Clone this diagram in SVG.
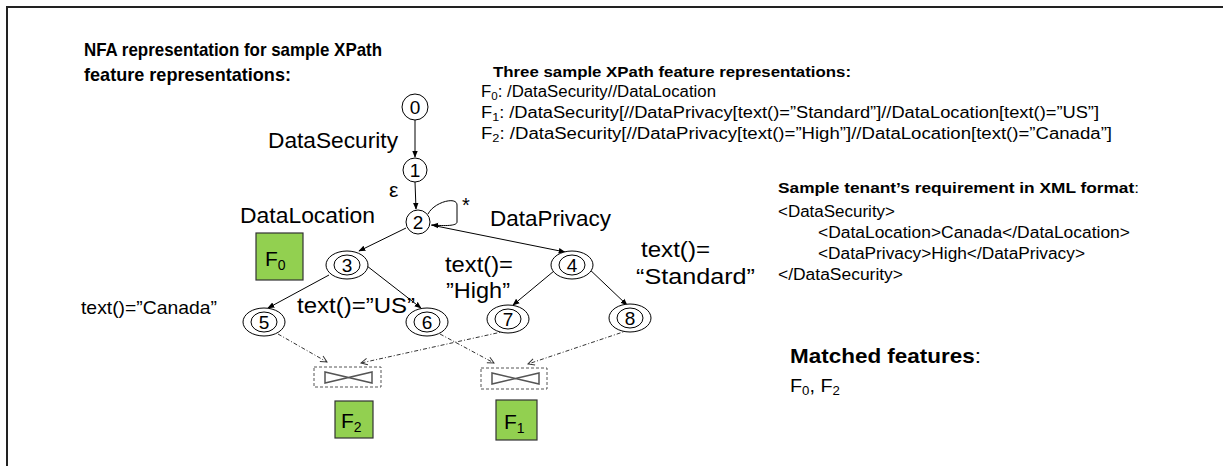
<svg xmlns="http://www.w3.org/2000/svg" width="1223" height="466" viewBox="0 0 1223 466">
<defs>
<style>
.t{font-family:"Liberation Sans",Arial,sans-serif;fill:#000}
.b{font-weight:bold}
.node{fill:#fff;stroke:#000;stroke-width:1}
.edge{fill:none;stroke:#000;stroke-width:1}
.dash{fill:none;stroke:#333;stroke-width:1;stroke-dasharray:4 2 1 2}
.green{fill:#92d050;stroke:#333;stroke-width:1.2}
.join{fill:none;stroke:#555;stroke-width:1;stroke-dasharray:3 2}
.tie{fill:none;stroke:#555;stroke-width:1.5}
</style>
<marker id="arr" viewBox="0 0 10 10" refX="9" refY="5" markerWidth="7" markerHeight="7" orient="auto-start-reverse" markerUnits="userSpaceOnUse">
<path d="M0,1 L10,5 L0,9 z" fill="#000"/>
</marker>
<marker id="arrO" viewBox="0 0 10 10" refX="9" refY="5" markerWidth="8" markerHeight="8" orient="auto" markerUnits="userSpaceOnUse">
<path d="M1,1 L9,5 L1,9" fill="none" stroke="#333" stroke-width="1.2"/>
</marker>
</defs>
<rect x="0" y="0" width="1223" height="466" fill="#fff"/>
<path d="M7,466 L7,7 L1223,7" fill="none" stroke="#222" stroke-width="2"/>

<g id="title">
<text class="t b" x="84" y="56" font-size="19" textLength="298" lengthAdjust="spacingAndGlyphs">NFA representation for sample XPath</text>
<text class="t b" x="84" y="81" font-size="19" textLength="207" lengthAdjust="spacingAndGlyphs">feature representations:</text>
</g>

<g id="xpath-text">
<text class="t b" x="493" y="77" font-size="15" textLength="358" lengthAdjust="spacingAndGlyphs">Three sample XPath feature representations:</text>
<text class="t" x="481" y="97" font-size="16" textLength="235" lengthAdjust="spacingAndGlyphs">F<tspan font-size="11" dy="3">0</tspan><tspan dy="-3">: /DataSecurity//DataLocation</tspan></text>
<text class="t" x="481" y="118" font-size="16" textLength="618" lengthAdjust="spacingAndGlyphs">F<tspan font-size="11" dy="3">1</tspan><tspan dy="-3">: /DataSecurity[//DataPrivacy[text()=”Standard”]//DataLocation[text()=”US”]</tspan></text>
<text class="t" x="481" y="139" font-size="16" textLength="631" lengthAdjust="spacingAndGlyphs">F<tspan font-size="11" dy="3">2</tspan><tspan dy="-3">: /DataSecurity[//DataPrivacy[text()=”High”]//DataLocation[text()=”Canada”]</tspan></text>
</g>

<g id="xml-text">
<text class="t b" x="778" y="193" font-size="15" textLength="361" lengthAdjust="spacingAndGlyphs">Sample tenant’s requirement in XML format<tspan font-weight="normal">:</tspan></text>
<text class="t" x="778" y="217" font-size="16" textLength="117" lengthAdjust="spacingAndGlyphs">&lt;DataSecurity&gt;</text>
<text class="t" x="818" y="238" font-size="16" textLength="312" lengthAdjust="spacingAndGlyphs">&lt;DataLocation&gt;Canada&lt;/DataLocation&gt;</text>
<text class="t" x="818" y="259" font-size="16" textLength="267" lengthAdjust="spacingAndGlyphs">&lt;DataPrivacy&gt;High&lt;/DataPrivacy&gt;</text>
<text class="t" x="778" y="280" font-size="16" textLength="125" lengthAdjust="spacingAndGlyphs">&lt;/DataSecurity&gt;</text>
</g>

<g id="matched">
<text class="t b" x="790" y="363" font-size="21" textLength="191" lengthAdjust="spacingAndGlyphs">Matched features<tspan font-weight="normal">:</tspan></text>
<text class="t" x="790" y="392" font-size="18" textLength="50" lengthAdjust="spacingAndGlyphs">F<tspan font-size="12" dy="3">0</tspan><tspan dy="-3">, F</tspan><tspan font-size="12" dy="3">2</tspan></text>
</g>

<g id="connectors">
<line class="edge" x1="415" y1="120" x2="415" y2="157" marker-end="url(#arr)"/>
<line class="edge" x1="415" y1="182" x2="416" y2="209" marker-end="url(#arr)"/>
<path class="edge" d="M428,214 C434,202 457,196 457,205 L457,222 C457,226 445,226 432,225" marker-end="url(#arr)"/>
<line class="edge" x1="406" y1="228" x2="359" y2="251" marker-end="url(#arr)"/>
<line class="edge" x1="431" y1="225" x2="565" y2="252" marker-end="url(#arr)"/>
<line class="edge" x1="329" y1="275" x2="268" y2="308" marker-end="url(#arr)"/>
<line class="edge" x1="367" y1="266" x2="421" y2="308" marker-end="url(#arr)"/>
<line class="edge" x1="560" y1="266" x2="513" y2="305" marker-end="url(#arr)"/>
<line class="edge" x1="586" y1="266" x2="627" y2="305" marker-end="url(#arr)"/>
<line class="dash" x1="278" y1="334" x2="327" y2="362" marker-end="url(#arrO)"/>
<line class="dash" x1="506" y1="331" x2="361" y2="363" marker-end="url(#arrO)"/>
<line class="dash" x1="440" y1="334" x2="494" y2="363" marker-end="url(#arrO)"/>
<line class="dash" x1="629" y1="330" x2="528" y2="364" marker-end="url(#arrO)"/>
</g>

<g id="label-datasecurity"><text class="t" x="268" y="148" font-size="22" textLength="130" lengthAdjust="spacingAndGlyphs">DataSecurity</text></g>
<g id="label-eps"><text class="t" x="389" y="197" font-size="21">ε</text></g>
<g id="label-star"><text class="t" x="462" y="212" font-size="20">*</text></g>
<g id="label-datalocation"><text class="t" x="240" y="223" font-size="22" textLength="135" lengthAdjust="spacingAndGlyphs">DataLocation</text></g>
<g id="label-dataprivacy"><text class="t" x="490" y="226" font-size="22" textLength="121" lengthAdjust="spacingAndGlyphs">DataPrivacy</text></g>
<g id="label-high"><text class="t" x="445" y="272" font-size="22" textLength="68" lengthAdjust="spacingAndGlyphs">text()=</text><text class="t" x="446" y="298" font-size="22" textLength="64" lengthAdjust="spacingAndGlyphs">”High”</text></g>
<g id="label-standard"><text class="t" x="641" y="257" font-size="22" textLength="69" lengthAdjust="spacingAndGlyphs">text()=</text><text class="t" x="636" y="284" font-size="22" textLength="119" lengthAdjust="spacingAndGlyphs">“Standard”</text></g>
<g id="label-canada"><text class="t" x="81" y="314" font-size="19" textLength="136" lengthAdjust="spacingAndGlyphs">text()=”Canada”</text></g>
<g id="label-us"><text class="t" x="297" y="313" font-size="22" textLength="118" lengthAdjust="spacingAndGlyphs">text()=”US”</text></g>

<g id="n0"><circle class="node" cx="415" cy="107" r="13"/><text class="t" x="415" y="114" font-size="19" text-anchor="middle">0</text></g>
<g id="n1"><circle class="node" cx="415" cy="170" r="12"/><text class="t" x="415" y="177" font-size="19" text-anchor="middle">1</text></g>
<g id="n2"><circle class="node" cx="418" cy="222" r="12"/><text class="t" x="418" y="229" font-size="19" text-anchor="middle">2</text></g>
<g id="n3"><ellipse class="node" cx="347" cy="265" rx="21" ry="14"/><ellipse class="node" cx="347" cy="265" rx="13" ry="10"/><text class="t" x="347" y="272" font-size="19" text-anchor="middle">3</text></g>
<g id="n4"><ellipse class="node" cx="572" cy="265" rx="21" ry="14"/><ellipse class="node" cx="572" cy="265" rx="13" ry="10"/><text class="t" x="572" y="272" font-size="19" text-anchor="middle">4</text></g>
<g id="n5"><ellipse class="node" cx="264" cy="322" rx="21" ry="14"/><ellipse class="node" cx="264" cy="322" rx="13" ry="10"/><text class="t" x="264" y="329" font-size="19" text-anchor="middle">5</text></g>
<g id="n6"><ellipse class="node" cx="427" cy="322" rx="21" ry="14"/><ellipse class="node" cx="427" cy="322" rx="13" ry="10"/><text class="t" x="427" y="329" font-size="19" text-anchor="middle">6</text></g>
<g id="n7"><ellipse class="node" cx="508" cy="319" rx="21" ry="14"/><ellipse class="node" cx="508" cy="319" rx="13" ry="10"/><text class="t" x="508" y="326" font-size="19" text-anchor="middle">7</text></g>
<g id="n8"><ellipse class="node" cx="630" cy="318" rx="21" ry="14"/><ellipse class="node" cx="630" cy="318" rx="13" ry="10"/><text class="t" x="630" y="325" font-size="19" text-anchor="middle">8</text></g>

<g id="f0"><rect class="green" x="256" y="233" width="47" height="47"/><text class="t" x="265" y="266" font-size="21">F<tspan font-size="14" dy="4">0</tspan></text></g>

<g id="join1"><rect class="join" x="314" y="367" width="67" height="20"/><path class="tie" d="M325,372 L325,383 L372,372 L372,383 Z"/></g>
<g id="join2"><rect class="join" x="481" y="368" width="66" height="21"/><path class="tie" d="M492,373 L492,384 L539,373 L539,384 Z"/></g>

<g id="f2"><rect class="green" x="335" y="401" width="38" height="37"/><text class="t" x="341" y="428" font-size="21">F<tspan font-size="14" dy="4">2</tspan></text></g>
<g id="f1"><rect class="green" x="496" y="400" width="41" height="40"/><text class="t" x="504" y="429" font-size="21">F<tspan font-size="14" dy="4">1</tspan></text></g>
</svg>
